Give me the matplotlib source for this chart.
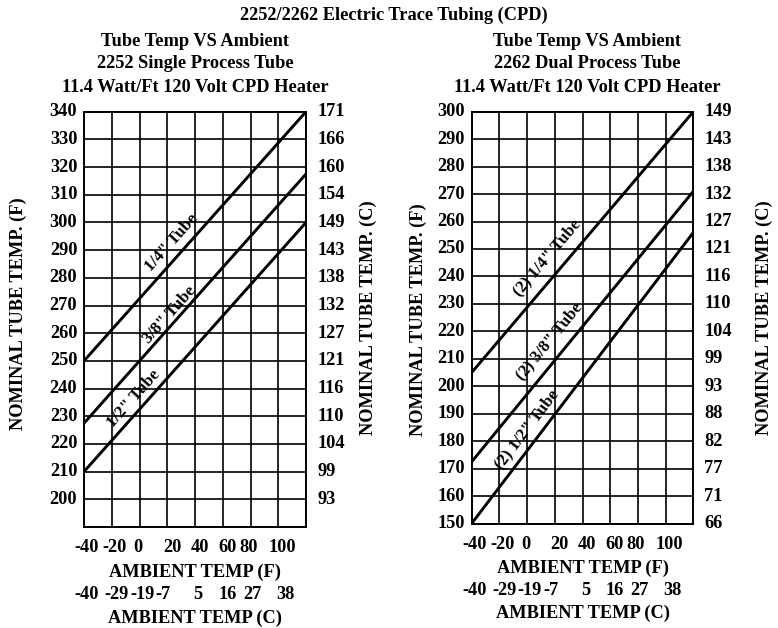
import numpy as np
import matplotlib
matplotlib.use("Agg")
import matplotlib.pyplot as plt
import matplotlib.transforms as mtransforms

plt.rcParams['font.family'] = ['Liberation Serif', 'DejaVu Serif']
plt.rcParams['font.weight'] = 'bold'

# ---------------- data ----------------
amb_f_ticks = [-40, -20, 0, 20, 40, 60, 80, 100]
amb_f_labels = ['-40', '-20', '0', '20', '40', '60', '80', '100']
amb_c_labels = ['-40', '-29', '-19', '-7', '5', '16', '27', '38']
x_range = [-40, 120]

# left chart (2252 single)
left_y_ticks = [200, 210, 220, 230, 240, 250, 260, 270, 280, 290, 300, 310, 320, 330, 340]
left_c_labels = ['93', '99', '104', '110', '116', '121', '127', '132', '138', '143', '149',
                 '154', '160', '166', '171']
left_names = ['1/4" Tube', '3/8" Tube', '1/2" Tube']
left_start = [250, 227.5, 210]
left_end = [340, 317.5, 300]

# right chart (2262 dual)
right_y_ticks = [150, 160, 170, 180, 190, 200, 210, 220, 230, 240, 250, 260, 270, 280, 290, 300]
right_c_labels = ['66', '71', '77', '82', '88', '93', '99', '104', '110', '116', '121', '127',
                  '132', '138', '143', '149']
right_names = ['(2) 1/4" Tube', '(2) 3/8" Tube', '(2) 1/2" Tube']
right_start = [205, 172.5, 150]
right_end = [300, 271, 256]

W, H = 778, 628
fig = plt.figure(figsize=(W / 100, H / 100), dpi=100)
FS = 13.2
LFS = 12.2

# small pixel nudges for the irregularly spaced bottom labels (style only)
f_nudge = [0, 0, -4, 2, 2, 2, -5, 1]
c_nudge = [0, 2, 0, -7, 0, 2, -1, 4]


def px_axes(x0, x1, ytop, ybot):
    return fig.add_axes([x0 / W, 1 - ybot / H, (x1 - x0) / W, (ybot - ytop) / H])


def draw_chart(ax, ylim, yticks, clabels, names, starts, ends, label_x, label_off):
    ax.set_xlim(*x_range)
    ax.set_ylim(*ylim)
    ax.set_xticks(np.arange(x_range[0], x_range[1] + 1, 20))
    ax.set_yticks(np.arange(ylim[0], ylim[1] + 1, 10))
    ax.grid(True, color='black', linewidth=1.2)
    ax.tick_params(length=0, labelbottom=False, labelleft=False)
    for s in ax.spines.values():
        s.set_linewidth(1.4)
    trans_l = mtransforms.blended_transform_factory(ax.transAxes, ax.transData)
    for v in yticks:
        ax.text(-0.03, v, str(v), transform=trans_l, ha='right', va='center',
                fontsize=FS, fontweight='bold')
    for v, lab in zip(yticks, clabels):
        ax.text(1.05, v, lab, transform=trans_l, ha='left', va='center',
                fontsize=FS, fontweight='bold')
    for name, s, e, xp, off in zip(names, starts, ends, label_x, label_off):
        ax.plot(x_range, [s, e], color='black', linewidth=2.1, solid_capstyle='butt')
        slope = (e - s) / (x_range[1] - x_range[0])
        yp = s + slope * (xp - x_range[0])
        ang = np.degrees(np.arctan2(e - s, x_range[1] - x_range[0]))
        ax.text(xp, yp + off, name, rotation=ang, transform_rotates_text=True,
                rotation_mode='anchor', ha='center', va='center',
                fontsize=LFS, fontweight='bold')
    trans_b = mtransforms.blended_transform_factory(ax.transData, ax.transAxes)
    for v, fl, cl, fn, cn in zip(amb_f_ticks, amb_f_labels, amb_c_labels, f_nudge, c_nudge):
        for lab, nud, yy in [(fl, fn, -0.05), (cl, cn, -0.163)]:
            t = ax.text(v + 2, yy, lab, transform=trans_b, ha='center', va='center',
                        fontsize=FS, fontweight='bold')
            t.set_transform(trans_b + mtransforms.ScaledTranslation(nud / 100, 0,
                                                                    fig.dpi_scale_trans))
    ax.text(0.5, -0.108, 'AMBIENT TEMP (F)', transform=ax.transAxes, ha='center',
            va='center', fontsize=FS, fontweight='bold')
    ax.text(0.5, -0.219, 'AMBIENT TEMP (C)', transform=ax.transAxes, ha='center',
            va='center', fontsize=FS, fontweight='bold')


axL = px_axes(84, 306, 111.7, 527)
draw_chart(axL, (190, 340), left_y_ticks, left_c_labels, left_names, left_start, left_end,
           [23.4, 22.0, -4.0], [7.2, 4.3, 6.2])
axR = px_axes(471.7, 693.3, 111.7, 523.5)
draw_chart(axR, (150, 300), right_y_ticks, right_c_labels, right_names, right_start, right_end,
           [14.6, 15.8, -0.1], [9.4, 9.6, 7.8])

# titles
fig.text(394 / W, 1 - 15 / H, '2252/2262 Electric Trace Tubing (CPD)', ha='center',
         va='center', fontsize=FS, fontweight='bold')
for cx, lines in [(195, ['Tube Temp VS Ambient', '2252 Single Process Tube',
                         '11.4 Watt/Ft 120 Volt CPD Heater']),
                  (587, ['Tube Temp VS Ambient', '2262 Dual Process Tube',
                         '11.4 Watt/Ft 120 Volt CPD Heater'])]:
    for y, t in zip([41, 64, 88], lines):
        fig.text(cx / W, 1 - y / H, t, ha='center', va='center', fontsize=FS,
                 fontweight='bold')

for x, y, t in [(18, 314, 'NOMINAL TUBE TEMP. (F)'), (368, 318, 'NOMINAL TUBE TEMP. (C)'),
                (418, 320, 'NOMINAL TUBE TEMP. (F)'), (764, 318, 'NOMINAL TUBE TEMP. (C)')]:
    fig.text(x / W, 1 - y / H, t, rotation=90, ha='center', va='center', fontsize=FS,
             fontweight='bold')

fig.savefig('out.png', dpi=100, facecolor='white')
